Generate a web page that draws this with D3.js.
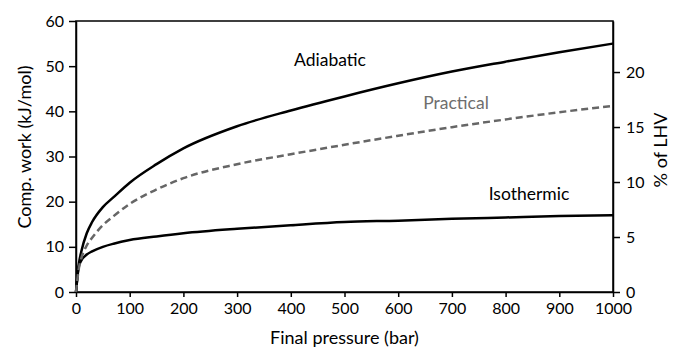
<!DOCTYPE html>
<html>
<head>
<meta charset="utf-8">
<script src="https://cdn.jsdelivr.net/npm/d3@7"></script>
<style>
  body { margin: 0; background: #fff; }
  text { font-family: Lato, "Open Sans", sans-serif; }
</style>
</head>
<body>
<script>
// Pressure grid (bar) and compression work (kJ/mol) for each process
const pressure = [0, 5, 10, 20, 30, 50, 70, 100, 150, 200, 300, 400, 500, 600, 700, 800, 900, 1000];
const adiabatic = [0, 6, 9, 13, 15.5, 18.8, 21, 24.2, 28.3, 31.8, 36.7, 40.2, 43.3, 46.2, 48.8, 51, 53.1, 55];
const practical = [0, 5, 7.5, 10.3, 12, 14.8, 16.8, 19.5, 22.7, 25.2, 28.3, 30.5, 32.6, 34.6, 36.5, 38.2, 39.8, 41.2];
const isothermic = [0, 5.5, 7, 8.3, 9, 10, 10.7, 11.5, 12.3, 13, 14, 14.8, 15.5, 15.8, 16.2, 16.5, 16.8, 17];

const xTicks = [0, 100, 200, 300, 400, 500, 600, 700, 800, 900, 1000];
const yTicks = [0, 10, 20, 30, 40, 50, 60];
const lhvTicks = [0, 5, 10, 15, 20];

// LHV of hydrogen, kJ/mol, for the right axis
const lhv = 243.5;

const config = { width: 673, height: 349 };
const margin = { left: 76, right: 60, top: 21, bottom: 57 };
const plotW = config.width - margin.left - margin.right;
const plotH = config.height - margin.top - margin.bottom;

const svg = d3
  .select("body")
  .append("svg")
  .attr("width", config.width)
  .attr("height", config.height);

const x = d3.scaleLinear().domain([0, 1000]).range([margin.left, margin.left + plotW]);
const y = d3.scaleLinear().domain([0, 60]).range([margin.top + plotH, margin.top]);
const yRight = d3.scaleLinear().domain([0, 6000 / lhv]).range([margin.top + plotH, margin.top]);

// Frame
svg
  .append("rect")
  .attr("x", margin.left)
  .attr("y", margin.top)
  .attr("width", plotW)
  .attr("height", plotH)
  .attr("fill", "none")
  .attr("stroke", "#000")
  .attr("stroke-width", 1.5);

const styleAxis = (g, size) => {
  g.select(".domain").attr("stroke-width", 1.5);
  g.selectAll(".tick line").attr("stroke-width", 1.5);
  g.selectAll(".tick text").attr("font-size", size).attr("fill", "#000");
};

svg
  .append("g")
  .attr("transform", `translate(0,${margin.top + plotH})`)
  .call(d3.axisBottom(x).tickValues(xTicks).tickFormat(d3.format("d")).tickSize(5).tickSizeOuter(0).tickPadding(6))
  .call(g => styleAxis(g, 16));

svg
  .append("g")
  .attr("transform", `translate(${margin.left},0)`)
  .call(d3.axisLeft(y).tickValues(yTicks).tickSize(7).tickSizeOuter(0).tickPadding(5))
  .call(g => styleAxis(g, 16));

svg
  .append("g")
  .attr("transform", `translate(${margin.left + plotW},0)`)
  .call(d3.axisRight(yRight).tickValues(lhvTicks).tickSize(7).tickSizeOuter(0).tickPadding(6))
  .call(g => styleAxis(g, 16));

// Curves
const line = values =>
  d3
    .line()
    .x((d, i) => x(pressure[i]))
    .y(d => y(d))
    .curve(d3.curveMonotoneX)(values);

svg.append("path").attr("d", line(isothermic)).attr("fill", "none").attr("stroke", "#000").attr("stroke-width", 2.5);
svg.append("path").attr("d", line(adiabatic)).attr("fill", "none").attr("stroke", "#000").attr("stroke-width", 2.5);
svg
  .append("path")
  .attr("d", line(practical))
  .attr("fill", "none")
  .attr("stroke", "#666")
  .attr("stroke-width", 2.5)
  .attr("stroke-dasharray", "7,4");

// Curve labels
svg.append("text").attr("x", 330).attr("y", 66).attr("text-anchor", "middle").attr("font-size", 17.5).text("Adiabatic");
svg.append("text").attr("x", 456).attr("y", 109).attr("text-anchor", "middle").attr("font-size", 17.5).attr("fill", "#6e6e6e").text("Practical");
svg.append("text").attr("x", 529).attr("y", 200).attr("text-anchor", "middle").attr("font-size", 17.5).text("Isothermic");

// Axis titles
svg
  .append("text")
  .attr("x", margin.left + plotW / 2)
  .attr("y", 344)
  .attr("text-anchor", "middle")
  .attr("font-size", 18)
  .text("Final pressure (bar)");

svg
  .append("text")
  .attr("transform", "translate(31,147) rotate(-90)")
  .attr("text-anchor", "middle")
  .attr("font-size", 18)
  .text("Comp. work (kJ/mol)");

svg
  .append("text")
  .attr("transform", "translate(667,150) rotate(-90)")
  .attr("text-anchor", "middle")
  .attr("font-size", 18)
  .text("% of LHV");
</script>
</body>
</html>
